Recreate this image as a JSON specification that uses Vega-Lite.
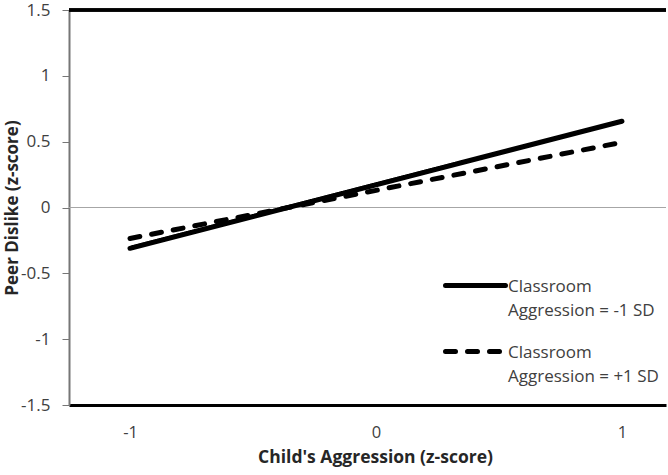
{
  "$schema": "https://vega.github.io/schema/vega-lite/v6.json",
  "width": 597,
  "height": 395,
  "autosize": "none",
  "padding": {"left": 69, "top": 10, "right": 2, "bottom": 70},
  "background": "white",
  "config": {
    "view": {"stroke": null},
    "font": "Open Sans",
    "axis": {
      "labelFont": "Open Sans",
      "titleFont": "Open Sans",
      "labelFontSize": 16,
      "labelColor": "#404040",
      "titleFontSize": 17.5,
      "titleFontWeight": "bold",
      "titleColor": "#262626",
      "grid": false
    }
  },
  "data": {
    "values": [
      {"aggr": -1, "dislike": -0.31, "group": "Classroom|Aggression = -1 SD"},
      {"aggr": 1, "dislike": 0.655, "group": "Classroom|Aggression = -1 SD"},
      {"aggr": -1, "dislike": -0.235, "group": "Classroom|Aggression = +1 SD"},
      {"aggr": 1, "dislike": 0.495, "group": "Classroom|Aggression = +1 SD"}
    ]
  },
  "layer": [
    {
      "mark": {"type": "rule", "color": "#a6a6a6", "strokeWidth": 1},
      "encoding": {"y": {"datum": 0, "type": "quantitative"}}
    },
    {
      "mark": {"type": "rule", "color": "black", "strokeWidth": 3},
      "encoding": {"y": {"datum": 1.5, "type": "quantitative"}}
    },
    {
      "mark": {"type": "line", "color": "black", "strokeWidth": 5, "strokeCap": "round"},
      "encoding": {
        "x": {
          "field": "aggr",
          "type": "quantitative",
          "scale": {"domain": [-1.248, 1.179], "nice": false, "zero": false},
          "axis": {
            "values": [-1, 0, 1],
            "ticks": false,
            "domainColor": "black",
            "domainWidth": 3,
            "labelFontSize": 16.5,
            "labelPadding": 19,
            "labelExpr": "datum.value + ''",
            "title": "Child's Aggression (z-score)",
            "titleX": 306,
            "titleAlign": "center",
            "titlePadding": 8
          }
        },
        "y": {
          "field": "dislike",
          "type": "quantitative",
          "scale": {"domain": [-1.5, 1.5], "nice": false, "zero": false},
          "axis": {
            "values": [-1.5, -1, -0.5, 0, 0.5, 1, 1.5],
            "domainColor": "#767676",
            "domainWidth": 2,
            "tickColor": "#767676",
            "tickSize": 7,
            "labelFontSize": 17,
            "labelPadding": 12,
            "labelExpr": "datum.value + ''",
            "title": "Peer Dislike (z-score)",
            "titleFontSize": 17,
            "titleX": -57,
            "titleBaseline": "middle"
          }
        },
        "strokeDash": {
          "field": "group",
          "type": "nominal",
          "scale": {
            "domain": ["Classroom|Aggression = -1 SD", "Classroom|Aggression = +1 SD"],
            "range": [[1, 0], [10, 12]]
          },
          "legend": {
            "orient": "none",
            "legendX": 374,
            "legendY": 243,
            "title": null,
            "symbolType": "stroke",
            "symbolSize": 3600,
            "symbolStrokeWidth": 5,
            "symbolStrokeColor": "black",
            "labelFont": "Open Sans",
            "labelFontSize": 17,
            "labelColor": "#404040",
            "labelLimit": 0,
            "labelOffset": 0,
            "labelBaseline": "alphabetic",
            "labelExpr": "split(datum.label, '|')",
            "rowPadding": -9,
            "encode": {
              "labels": {"update": {"lineHeight": {"value": 24}, "dy": {"value": 6}}},
              "symbols": {"update": {"strokeCap": {"value": "round"}}}
            }
          }
        }
      }
    }
  ]
}
